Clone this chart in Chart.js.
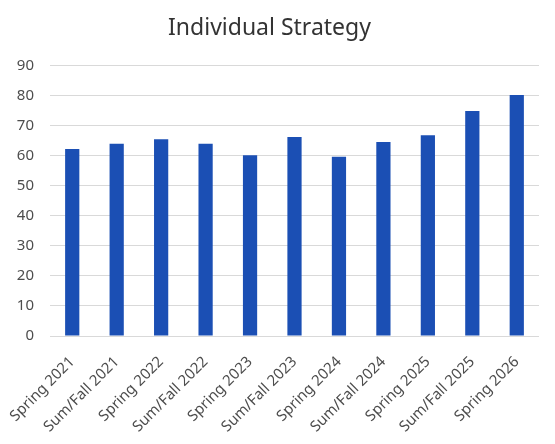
<!DOCTYPE html>
<html>
<head>
<meta charset="utf-8">
<script src="https://cdn.jsdelivr.net/npm/chart.js@4"></script>
<style>
  html, body { margin: 0; padding: 0; background: #fff; }
  #wrap { width: 555px; height: 444px; }
</style>
</head>
<body>
<div id="wrap"><canvas id="chart"></canvas></div>
<script>
// terms on the x axis
const terms = ['Spring 2021', 'Sum/Fall 2021', 'Spring 2022', 'Sum/Fall 2022', 'Spring 2023',
  'Sum/Fall 2023', 'Spring 2024', 'Sum/Fall 2024', 'Spring 2025', 'Sum/Fall 2025', 'Spring 2026'];
// individual strategy values
const values = [62.2, 64.0, 65.5, 64.0, 60.2, 66.2, 59.7, 64.6, 66.8, 74.9, 80.2];
const yMin = 0, yMax = 90, yStep = 10;

const fontFamily = '"Noto Sans", "Open Sans", sans-serif';
const textColor = '#4d4d4d';

new Chart(document.getElementById('chart'), {
  type: 'bar',
  data: {
    labels: terms,
    datasets: [{
      label: 'Individual Strategy',
      data: values,
      backgroundColor: '#1b4fb4',
      categoryPercentage: 1,
      barPercentage: 0.32
    }]
  },
  options: {
    responsive: true,
    maintainAspectRatio: false,
    animation: false,
    layout: { padding: { left: 0, right: 16, top: 0, bottom: 0 } },
    plugins: {
      legend: { display: false },
      tooltip: { enabled: false },
      title: {
        display: true,
        text: 'Individual Strategy',
        color: '#333333',
        font: { family: fontFamily, size: 23, weight: 'normal' },
        padding: { top: 15, bottom: 23 }
      }
    },
    scales: {
      x: {
        grid: { display: false },
        border: { display: false },
        ticks: {
          color: textColor,
          font: { family: fontFamily, size: 15 },
          minRotation: 45,
          maxRotation: 45,
          autoSkip: false,
          padding: 9
        },
        afterFit: (scale) => { scale.height = 108; }
      },
      y: {
        min: yMin,
        max: yMax,
        grid: { color: '#d9d9d9', lineWidth: 1, drawTicks: false },
        border: { display: false },
        ticks: {
          stepSize: yStep,
          color: textColor,
          font: { family: fontFamily, size: 15 },
          padding: 16
        },
        afterFit: (scale) => { scale.width = 50; }
      }
    }
  }
});
</script>
</body>
</html>
